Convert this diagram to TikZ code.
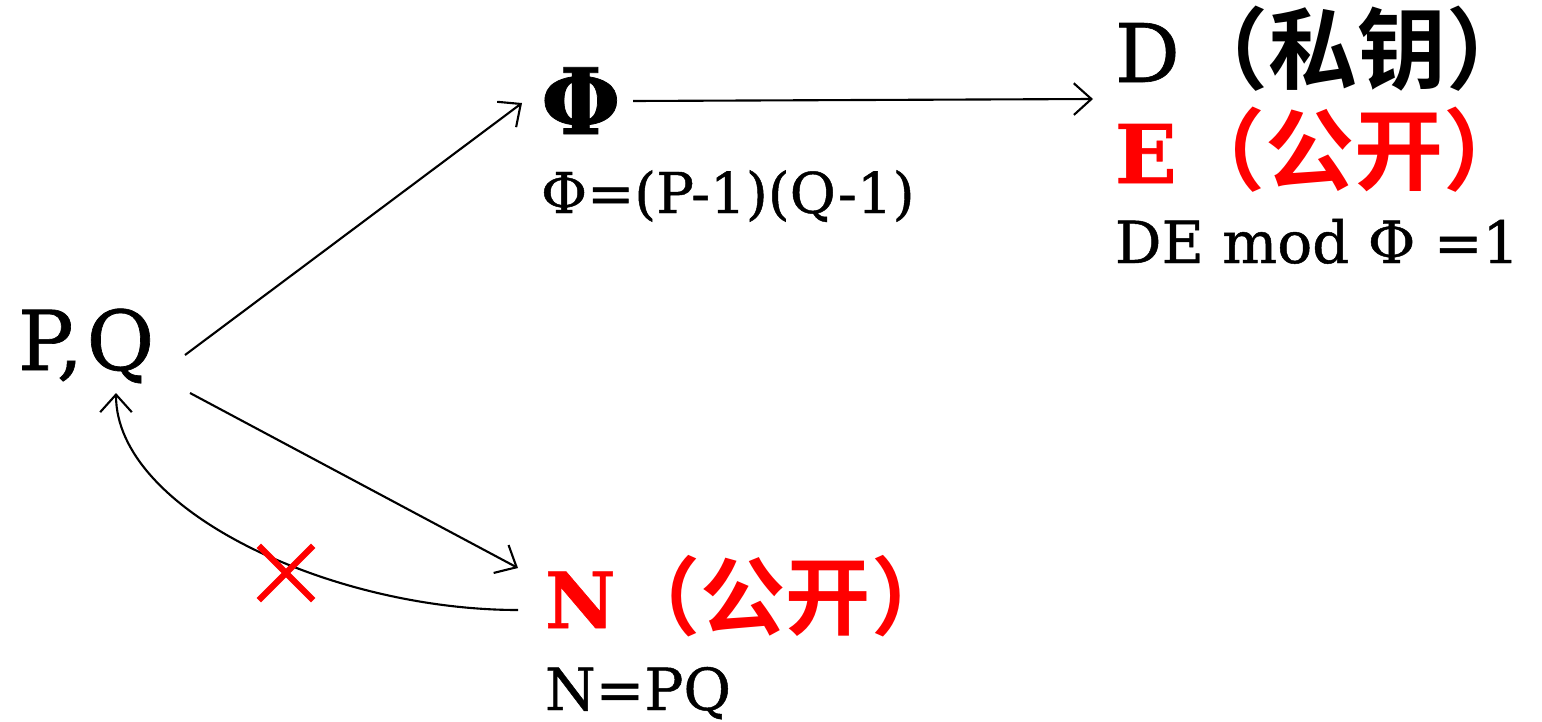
\documentclass[tikz,border=0pt]{standalone}
\usepackage{fontspec}
\setmainfont{DejaVu Serif}[FakeBold=0.8]
\newfontfamily\cjk{Noto Sans CJK SC}[Scale=1.1,BoldFont={Noto Sans CJK SC Bold}]
\usetikzlibrary{arrows.meta,shapes.misc,calc}
\definecolor{pptred}{RGB}{255,0,0}
\tikzset{
  lbl/.style={anchor=base west, inner sep=0pt, outer sep=0pt},
  arr/.style={line width=0.6pt, -{Straight Barb[length=5pt,width=9pt,line width=0.6pt]}},
  redtxt/.style={text=pptred},
}
\begin{document}
\begin{tikzpicture}[x=0.01cm,y=-0.01cm]
\useasboundingbox (0,0) rectangle (1542,721);
\node[lbl, font=\fontsize{23.5}{28}\selectfont] (pq) at (18,370) {P,\kern1pt Q};
\node[lbl, font=\fontsize{26}{30}\selectfont\bfseries] (phi) at (541,134) {Φ};
\node[lbl, font=\fontsize{16}{19}\selectfont] (phif) at (541,213) {Φ=(P-1)(Q-1)};
\node[lbl, font=\fontsize{23}{28}\selectfont] (d) at (1115,82) {D{\cjk\bfseries （私钥）}};
\node[lbl, redtxt, font=\fontsize{23}{28}\selectfont\bfseries] (e) at (1115,183) {E{\cjk （公开）}};
\node[lbl, font=\fontsize{16.5}{20}\selectfont] (de) at (1115,263) {DE mod Φ =1};
\node[lbl, redtxt, font=\fontsize{22}{27}\selectfont\bfseries] (n) at (545,628) {N{\cjk （公开）}};
\node[lbl, font=\fontsize{16.5}{20}\selectfont] (npq) at (545,710) {N=PQ};
\draw[arr] ($(pq.base west)+(167,-15)$) -- ($(phi.base west)+(-19,-31)$);
\draw[arr] ($(phi.base west)+(92,-33)$) -- ($(d.base west)+(-22,17)$);
\draw[arr] ($(pq.base west)+(172,23)$) -- ($(n.base west)+(-27,-60)$);
\draw[arr] ($(n.base west)+(-27,-18)$) .. controls +(-188,0) and +(0,117) .. ($(pq.base west)+(98,23)$);
\node[cross out, draw=pptred, line width=1.8pt, minimum size=0.48cm, inner sep=0pt] (x) at (286,573) {};
\end{tikzpicture}
\end{document}
